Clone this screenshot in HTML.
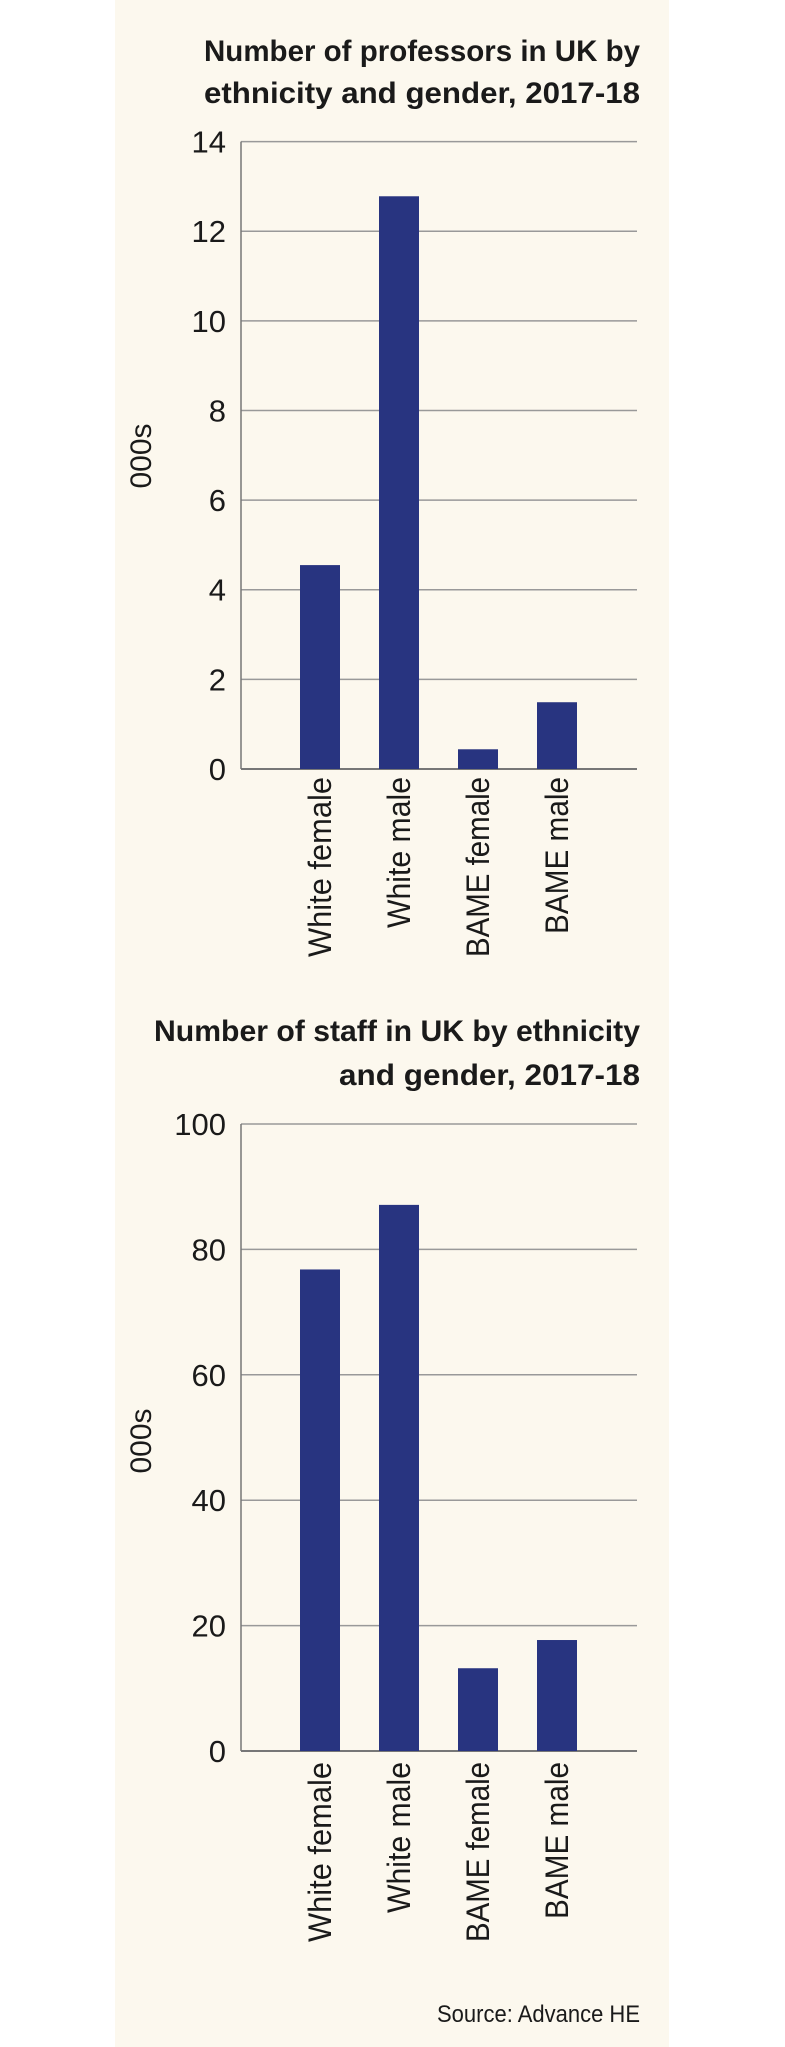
<!DOCTYPE html>
<html><head><meta charset="utf-8"><style>
html,body{margin:0;padding:0;background:#fff;}
svg{display:block;}
text{font-family:"Liberation Sans",sans-serif;fill:#1a1a1a;}
</style></head><body>
<svg id="chart" width="785" height="2047" viewBox="0 0 785 2047">
<rect x="115" y="0" width="554" height="2047" fill="#fcf8ee"/>
<g>
<text x="640" y="61" text-anchor="end" font-size="30" font-weight="bold" textLength="436" lengthAdjust="spacingAndGlyphs">Number of professors in UK by</text>
<text x="640" y="103" text-anchor="end" font-size="30" font-weight="bold" textLength="436" lengthAdjust="spacingAndGlyphs">ethnicity and gender, 2017-18</text>
</g>
<g>
<text x="640" y="1041" text-anchor="end" font-size="30" font-weight="bold" textLength="486" lengthAdjust="spacingAndGlyphs">Number of staff in UK by ethnicity</text>
<text x="640" y="1085" text-anchor="end" font-size="30" font-weight="bold" textLength="301" lengthAdjust="spacingAndGlyphs">and gender, 2017-18</text>
</g>
<text x="640" y="2022" text-anchor="end" font-size="24" textLength="203" lengthAdjust="spacingAndGlyphs">Source: Advance HE</text>
<g id="c1"></g>
<g id="c2"></g>
</svg>
<script>
const categories = ["White female", "White male", "BAME female", "BAME male"];
const profValues = [4.55, 12.78, 0.44, 1.49];
const staffValues = [76.8, 87.1, 13.2, 17.7];
const profTicks = [0, 2, 4, 6, 8, 10, 12, 14];
const staffTicks = [0, 20, 40, 60, 80, 100];
const labelLens = [180, 151, 180, 157];

const NS = "http://www.w3.org/2000/svg";
function mk(parent, tag, attrs, txt) {
  const e = document.createElementNS(NS, tag);
  for (const k in attrs) e.setAttribute(k, attrs[k]);
  if (txt !== undefined) e.textContent = txt;
  parent.appendChild(e);
  return e;
}
function drawChart(gid, prefix, values, ticks, yTop, yBot, labelTop, ttlY) {
  const g = document.getElementById(gid);
  const x0 = 241, x1 = 637;
  const maxV = ticks[ticks.length - 1];
  const y = v => yBot - (v / maxV) * (yBot - yTop);
  const xc = i => 320 + i * 79;
  ticks.forEach(t => {
    const ln = mk(g, "line", {x1: x0, x2: x1, y1: y(t), y2: y(t), stroke: t === 0 ? "#777" : "#999", "stroke-width": t === 0 ? 2 : 1.5});
    
    
    const tx = mk(g, "text", {x: 226, y: y(t) + 11, "text-anchor": "end", "font-size": 31}, String(t));
    
    
  });
  const ax = mk(g, "line", {x1: x0, x2: x0, y1: yTop, y2: yBot, stroke: "#777", "stroke-width": 1.5});
  
  
  values.forEach((v, i) => {
    const r = mk(g, "rect", {x: xc(i) - 20, y: y(v), width: 40, height: yBot - y(v), fill: "#283480"});
    
    
    const lb = mk(g, "text", {x: 0, y: 0, "text-anchor": "end", "font-size": 32, textLength: labelLens[i], lengthAdjust: "spacingAndGlyphs", transform: "translate(" + (xc(i) + 11) + "," + labelTop + ") rotate(-90)"}, categories[i]);
    
    
  });
  const yt = mk(g, "text", {x: 0, y: 0, "text-anchor": "middle", "font-size": 30, transform: "translate(151," + ttlY + ") rotate(-90)"}, "000s");
  
  
}
drawChart("c1", "professors", profValues, profTicks, 141.6, 769, 777, 456);
drawChart("c2", "staff", staffValues, staffTicks, 1124, 1751, 1762, 1441);
</script>
</body></html>
